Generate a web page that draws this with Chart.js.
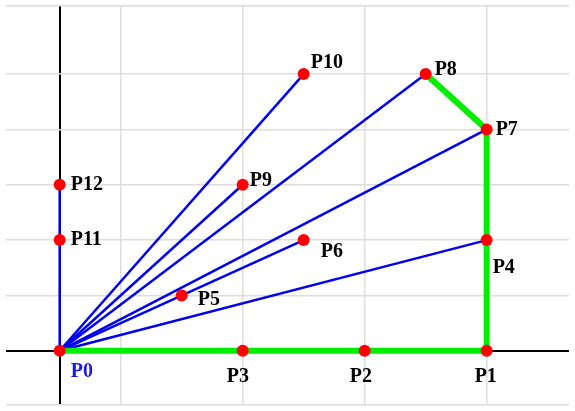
<!DOCTYPE html>
<html>
<head>
<meta charset="utf-8">
<script src="https://cdn.jsdelivr.net/npm/chart.js@4.4.1/dist/chart.umd.min.js"></script>
<style>
  html, body { margin: 0; padding: 0; background: #fff; }
  #wrap { width: 575px; height: 411px; }
</style>
</head>
<body>
<div id="wrap"><canvas id="fig"></canvas></div>
<script>
// point names and coordinates
const names = ['P0','P1','P2','P3','P4','P5','P6','P7','P8','P9','P10','P11','P12'];
const xs = [0, 7, 5, 3, 7, 2, 4, 7, 6, 3, 4, 0, 0];
const ys = [0, 0, 0, 0, 2, 1, 2, 4, 5, 3, 5, 2, 3];
// green path and blue rays from P0
const greenPath = ['P0','P1','P7','P8'];
const rays = ['P4','P6','P7','P8','P9','P10','P12'];
// label offsets in pixels (dx, dy)
const labelDx = [11, -12, -15, -16, 6, 16, 17, 9, 9, 7, 7, 11, 11];
const labelDy = [21, 26, 26, 26, 28, 4, 12, 0, -4, -4, -11, 0, 0];

const pt = n => { const i = names.indexOf(n); return { x: xs[i], y: ys[i] }; };

const datasets = [{
  type: 'scatter',
  data: names.map(pt),
  pointRadius: 6,
  pointBackgroundColor: '#ff0000',
  pointBorderWidth: 0,
  order: 0
}, {
  type: 'line',
  data: greenPath.map(pt),
  borderColor: '#00ee00',
  borderWidth: 6,
  pointRadius: 0,
  borderJoinStyle: 'miter',
  order: 1
}];
rays.forEach(r => datasets.push({
  type: 'line',
  data: [pt('P0'), pt(r)],
  borderColor: '#0000ee',
  borderWidth: 2.5,
  pointRadius: 0,
  order: 2
}));

const labels = {
  id: 'labels',
  afterDatasetsDraw(chart) {
    const { ctx, scales: { x, y } } = chart;
    ctx.save();
    ctx.font = 'bold 20px "Liberation Serif", serif';
    ctx.textBaseline = 'middle';
    names.forEach((n, i) => {
      ctx.fillStyle = n === 'P0' ? '#1a1aee' : '#000';
      ctx.fillText(n, x.getPixelForValue(xs[i]) + labelDx[i], y.getPixelForValue(ys[i]) + labelDy[i]);
    });
    ctx.restore();
  }
};

new Chart(document.getElementById('fig'), {
  data: { datasets },
  options: {
    responsive: true,
    maintainAspectRatio: false,
    animation: false,
    layout: { padding: 0 },
    plugins: { legend: { display: false }, tooltip: { enabled: false } },
    scales: {
      x: {
        type: 'linear', min: -0.88, max: 8.35,
        ticks: { display: false, stepSize: 1, padding: 0 },
        border: { display: false },
        grid: {
          drawTicks: false,
          lineWidth: c => c.tick.value === 0 ? 2 : 1.5,
          color: c => c.tick.value === 0 ? '#000' : (Math.abs(c.tick.value) % 2 === 1 ? '#dddddd' : 'rgba(0,0,0,0)')
        }
      },
      y: {
        type: 'linear', min: -0.98, max: 6.23,
        ticks: { display: false, stepSize: 1, padding: 0 },
        border: { display: false },
        grid: {
          drawTicks: false,
          lineWidth: c => c.tick.value === 0 ? 2 : 1.5,
          color: c => c.tick.value === 0 ? '#000' : '#dddddd'
        }
      }
    }
  },
  plugins: [labels]
});
</script>
</body>
</html>
